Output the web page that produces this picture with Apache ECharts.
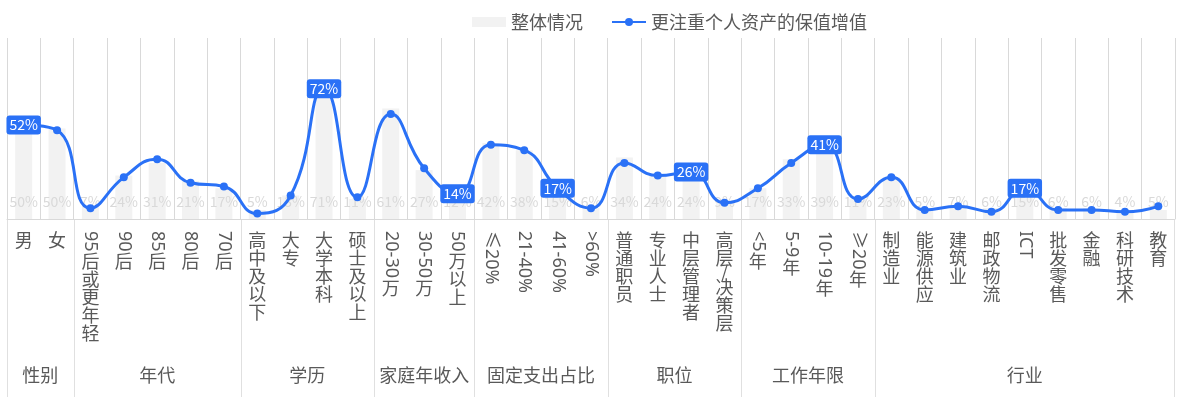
<!DOCTYPE html>
<html>
<head>
<meta charset="utf-8">
<script src="https://cdn.jsdelivr.net/npm/echarts@6/dist/echarts.min.js"></script>
<style>
html,body{margin:0;padding:0;background:#fff;}
#main{width:1182px;height:397px;}
</style>
</head>
<body>
<div id="main"></div>
<script>
const categories = ['男','女','95后或更年轻','90后','85后','80后','70后','高中及以下','大专','大学本科','硕士及以上','20-30万','30-50万','50万以上','≤20%','21-40%','41-60%','>60%','普通职员','专业人士','中层管理者','高层/决策层','<5年','5-9年','10-19年','≥20年','制造业','能源供应','建筑业','邮政物流','ICT','批发零售','金融','科研技术','教育'];
const overallValues = [50,50,7,24,31,21,17,5,13,71,11,61,27,12,42,38,15,6,34,24,24,9,17,33,39,11,23,5,7,6,15,6,6,4,5];
const focusValues = [52,49,6,23,33,20,18,3,13,72,12,58,28,14,41,38,17,6,31,24,26,9,17,31,41,11,23,5,7,4,17,5,5,4,7];
const highlighted = ['男','大学本科','50万以上','41-60%','中层管理者','10-19年','ICT'];
const groupNames = ['性别','年代','学历','家庭年收入','固定支出占比','职位','工作年限','行业'];
const groupSizes = [2,5,4,3,4,4,4,9];
const seriesNames = ['整体情况','更注重个人资产的保值增值'];

const BLUE = '#2a71f6';
const TEXT = '#595959';
const FONT = '"Noto Sans CJK SC", "Noto Sans", sans-serif';
const LATIN_FONT = '"Noto Sans", "Noto Sans CJK SC", sans-serif';

const chart = echarts.init(document.getElementById('main'), null, {renderer: 'canvas'});
const option = {
  animation: false,
  textStyle: {fontFamily: FONT},
  legend: {
    left: 467, top: 8,
    itemGap: 28,
    itemWidth: 34, itemHeight: 10,
    textStyle: {fontSize: 18, color: TEXT, fontFamily: FONT},
    data: [{name: seriesNames[0], icon: 'rect'}, {name: seriesNames[1]}]
  },
  grid: {left: 7, right: 7, top: 38, bottom: 178, containLabel: false},
  xAxis: {
    type: 'category',
    data: categories,
    axisLine: {lineStyle: {color: '#d9d9d9'}},
    axisTick: {show: false},
    axisLabel: {show: false},
    splitLine: {show: true, interval: 0, lineStyle: {color: '#d9d9d9', width: 1}}
  },
  yAxis: {
    type: 'value', min: 0, max: 100,
    show: false,
    splitLine: {show: false}
  },
  series: [
    {
      name: seriesNames[0],
      type: 'bar',
      data: overallValues,
      barWidth: 17,
      itemStyle: {color: '#f2f2f2'},
      label: {
        show: true, position: 'insideBottom', distance: 10,
        formatter: '{c}%', color: '#d9d9d9', fontSize: 14, fontFamily: FONT
      },
      z: 1
    },
    {
      name: seriesNames[1],
      type: 'line',
      smooth: true,
      symbol: 'circle',
      symbolSize: 8,
      lineStyle: {color: BLUE, width: 3},
      itemStyle: {color: BLUE},
      z: 3,
      data: focusValues.map((v, i) => {
        if (highlighted.indexOf(categories[i]) >= 0) {
          return {
            value: v,
            label: {
              show: true, position: 'inside', formatter: '{c}%',
              color: '#fff', backgroundColor: BLUE, fontSize: 14,
              padding: [3, 3, 2, 3], borderRadius: 3, fontFamily: FONT
            }
          };
        }
        return v;
      })
    }
  ]
};
chart.setOption(option);

// Build vertical category labels and group labels using the axis scale
const cnv = document.createElement('canvas');
const ctx = cnv.getContext('2d');
const LABEL_SIZE = 18;
ctx.font = LABEL_SIZE + 'px ' + LATIN_FONT;

function px(name) { return chart.convertToPixel({xAxisIndex: 0}, name); }
const band = px(categories[1]) - px(categories[0]);
const axisY = chart.convertToPixel({yAxisIndex: 0}, 0);

function isUpright(ch) { return /[\u2E80-\u9FFF\uFF00-\uFFEF\/]/.test(ch); }

const elements = [];
categories.forEach(name => {
  const cx = px(name);
  let y = axisY + 12;
  let i = 0;
  while (i < name.length) {
    const ch = name[i];
    if (isUpright(ch)) {
      const adv = ch === '/' ? 11 : LABEL_SIZE;
      elements.push({
        type: 'text', x: cx, y: y + adv / 2, silent: true,
        style: {text: ch, fill: TEXT, font: LABEL_SIZE + 'px ' + FONT, align: 'center', verticalAlign: 'middle'}
      });
      y += adv;
      i++;
    } else {
      let run = '';
      while (i < name.length && !isUpright(name[i])) { run += name[i]; i++; }
      const w = ctx.measureText(run).width;
      elements.push({
        type: 'text', x: cx, y: y, rotation: -Math.PI / 2, silent: true,
        style: {text: run, fill: TEXT, font: LABEL_SIZE + 'px ' + LATIN_FONT, align: 'left', verticalAlign: 'middle'}
      });
      y += w + 1;
    }
  }
});

let start = 0;
const bottomY = 397;
groupNames.forEach((g, gi) => {
  const first = categories[start];
  const last = categories[start + groupSizes[gi] - 1];
  const leftX = px(first) - band / 2;
  const midX = (px(first) + px(last)) / 2;
  elements.push({
    type: 'line', silent: true,
    shape: {x1: Math.round(leftX) + 0.5, y1: axisY, x2: Math.round(leftX) + 0.5, y2: bottomY},
    style: {stroke: '#e0e0e0', lineWidth: 1}
  });
  elements.push({
    type: 'text', x: midX, y: 375, silent: true,
    style: {text: g, fill: TEXT, font: '18px ' + FONT, align: 'center', verticalAlign: 'middle'}
  });
  start += groupSizes[gi];
});
const rightX = px(categories[categories.length - 1]) + band / 2;
elements.push({
  type: 'line', silent: true,
  shape: {x1: Math.round(rightX) - 0.5, y1: axisY, x2: Math.round(rightX) - 0.5, y2: bottomY},
  style: {stroke: '#e0e0e0', lineWidth: 1}
});

chart.setOption({graphic: {elements: elements}});
</script>
</body>
</html>
